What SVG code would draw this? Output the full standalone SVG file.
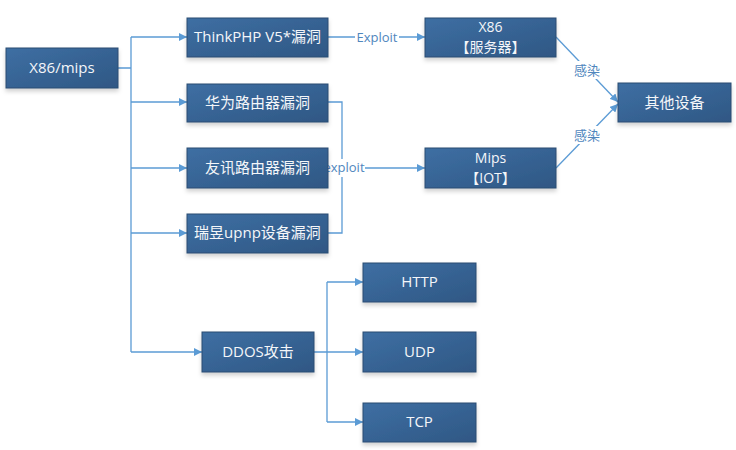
<svg xmlns="http://www.w3.org/2000/svg" width="736" height="450" viewBox="0 0 736 450">
<defs>
<linearGradient id="g" x1="0" y1="0" x2="1" y2="1">
<stop offset="0" stop-color="#3e6fa3"/>
<stop offset="1" stop-color="#2f5784"/>
</linearGradient>
<filter id="sh" x="-10%" y="-10%" width="120%" height="140%">
<feDropShadow dx="0" dy="3" stdDeviation="2" flood-color="#000" flood-opacity="0.18"/>
</filter>
<marker id="ar" viewBox="0 0 10 10" refX="10" refY="5" markerWidth="8" markerHeight="8" markerUnits="userSpaceOnUse" orient="auto">
<path d="M0,0 L10,5 L0,10 z" fill="#5b9bd5"/>
</marker>
</defs>
<style>
.b{fill:url(#g);stroke:#2a4c73;stroke-width:1;filter:url(#sh)}
.t{font-family:"Open Sans","Noto Sans CJK SC",sans-serif;font-size:15px;fill:#f4f6f9;text-anchor:middle}
.t2{font-family:"Open Sans","Noto Sans CJK SC",sans-serif;font-size:14px;fill:#f4f6f9;text-anchor:middle}
.l{fill:none;stroke:#5b9bd5;stroke-width:1.3}
.lb{font-family:"Open Sans","Noto Sans CJK SC",sans-serif;font-size:13px;fill:#4f86bd;text-anchor:middle}
</style>
<rect width="736" height="450" fill="#fff"/>
<g id="connectors">
<path class="l" d="M118,68 H131 M131,37 V352"/>
<path class="l" marker-end="url(#ar)" d="M131,37 H187"/>
<path class="l" marker-end="url(#ar)" d="M131,102 H187"/>
<path class="l" marker-end="url(#ar)" d="M131,168 H187"/>
<path class="l" marker-end="url(#ar)" d="M131,233 H187"/>
<path class="l" marker-end="url(#ar)" d="M131,352 H202"/>
<path class="l" marker-end="url(#ar)" d="M328,37 H425"/>
<rect x="355" y="29" width="44" height="17" fill="#fff"/>
<text class="lb" x="377" y="42">Exploit</text>
<path class="l" d="M328,102 H342 V233 H328"/>
<path class="l" marker-end="url(#ar)" d="M328,168 H425"/>
<rect x="323" y="159" width="42" height="18" fill="#fff"/>
<text class="lb" x="344" y="172">exploit</text>
<path class="l" marker-end="url(#ar)" d="M556,37 L618,102"/>
<path class="l" marker-end="url(#ar)" d="M556,168 L618,104"/>
<rect x="570" y="61" width="34" height="18" fill="#fff"/>
<text class="lb" x="587" y="75">感染</text>
<rect x="570" y="126" width="34" height="18" fill="#fff"/>
<text class="lb" x="587" y="140">感染</text>
<path class="l" d="M314,352 H327 M327,282 V422"/>
<path class="l" marker-end="url(#ar)" d="M327,282 H363"/>
<path class="l" marker-end="url(#ar)" d="M327,352 H363"/>
<path class="l" marker-end="url(#ar)" d="M327,422 H363"/>
</g>
<g id="n-root"><rect class="b" x="6" y="48" width="112" height="40"/><text class="t" x="62" y="73">X86/mips</text></g>
<g id="n-thinkphp"><rect class="b" x="187" y="18" width="141" height="39"/><text class="t" x="257.5" y="42">ThinkPHP V5*漏洞</text></g>
<g id="n-huawei"><rect class="b" x="187" y="84" width="141" height="38"/><text class="t" x="257.5" y="108">华为路由器漏洞</text></g>
<g id="n-dlink"><rect class="b" x="187" y="148" width="141" height="40"/><text class="t" x="257.5" y="173">友讯路由器漏洞</text></g>
<g id="n-realtek"><rect class="b" x="187" y="214" width="141" height="39"/><text class="t" x="257.5" y="238">瑞昱upnp设备漏洞</text></g>
<g id="n-ddos"><rect class="b" x="202" y="332" width="112" height="40"/><text class="t" x="258" y="357">DDOS攻击</text></g>
<g id="n-http"><rect class="b" x="363" y="263" width="113" height="39"/><text class="t" x="419.5" y="287">HTTP</text></g>
<g id="n-udp"><rect class="b" x="363" y="332" width="113" height="40"/><text class="t" x="419.5" y="357">UDP</text></g>
<g id="n-tcp"><rect class="b" x="363" y="403" width="113" height="39"/><text class="t" x="419.5" y="427">TCP</text></g>
<g id="n-x86"><rect class="b" x="425" y="18" width="131" height="39"/><text class="t2" x="490.5" y="32">X86</text><text class="t2" x="490.5" y="52">【服务器】</text></g>
<g id="n-mips"><rect class="b" x="425" y="148" width="131" height="40"/><text class="t2" x="490.5" y="162.5">Mips</text><text class="t2" x="490.5" y="182.5">【IOT】</text></g>
<g id="n-other"><rect class="b" x="618" y="83" width="113" height="39"/><text class="t" x="674.5" y="108">其他设备</text></g>
</svg>
